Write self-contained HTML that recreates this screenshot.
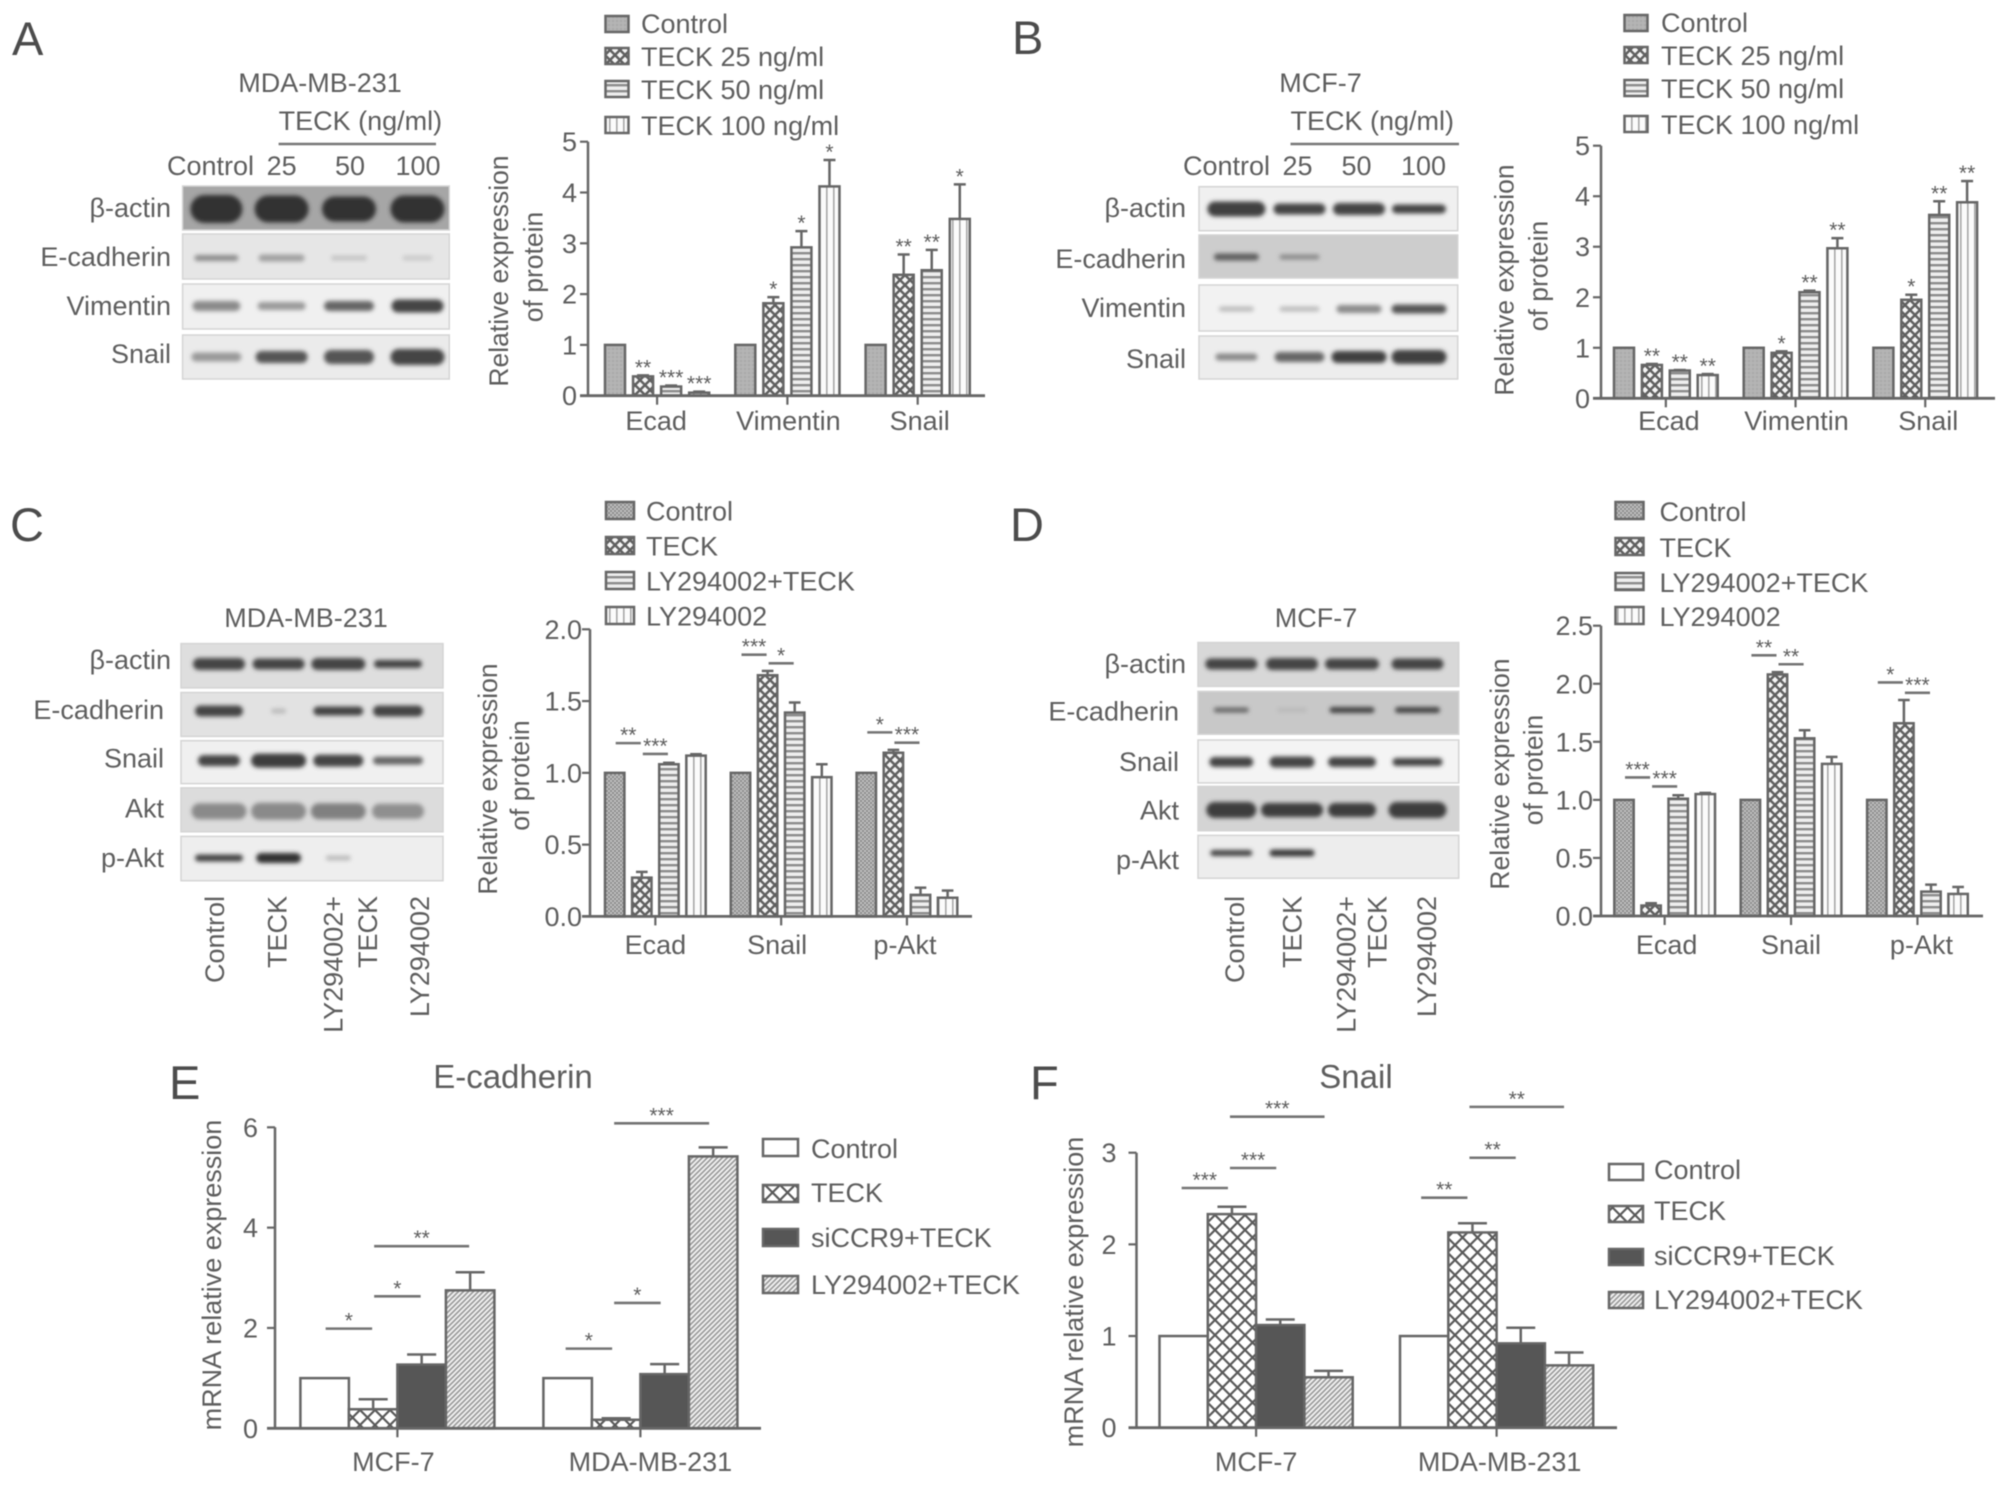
<!DOCTYPE html>
<html lang="en">
<head>
<meta charset="utf-8">
<title>TECK EMT western blot and mRNA figure</title>
<style>
html,body{margin:0;padding:0;background:#fff;}
svg{display:block;filter:blur(0.55px);}
text{font-family:"Liberation Sans",sans-serif;fill:#5e5e5e;font-size:27px;}
.pl{font-size:47px;fill:#4c4c4c;}
.r{text-anchor:end;}
.m{text-anchor:middle;}
.sw{stroke:#666;stroke-width:2.5;}
</style>
</head>
<body>
<svg id="fig" xmlns="http://www.w3.org/2000/svg" width="2008" height="1485" viewBox="0 0 2008 1485">
<defs>
  <filter id="bandBlur" x="-30%" y="-80%" width="160%" height="260%"><feGaussianBlur stdDeviation="2.2"/></filter>
  <pattern id="pGray" patternUnits="userSpaceOnUse" width="4" height="4"><rect width="4" height="4" fill="#b4b4b4"/><rect width="2" height="2" fill="#a8a8a8"/></pattern>
  <pattern id="pDots" patternUnits="userSpaceOnUse" width="4" height="4"><rect width="4" height="4" fill="#c0c0c0"/><rect width="2" height="2" fill="#8e8e8e"/><rect x="2" y="2" width="2" height="2" fill="#8e8e8e"/></pattern>
  <pattern id="pCheck" patternUnits="userSpaceOnUse" width="10" height="10"><rect width="10" height="10" fill="#f4f4f4"/><path d="M-2 2L2 -2M-2 12L12 -2M8 12L12 8M-2 8L2 12M-2 -2L12 12M8 -2L12 2" stroke="#606060" stroke-width="2.5"/></pattern>
  <pattern id="pH" patternUnits="userSpaceOnUse" width="6" height="6"><rect width="6" height="6" fill="#eeeeee"/><rect width="6" height="2.4" fill="#8c8c8c"/></pattern>
  <pattern id="pV" patternUnits="userSpaceOnUse" width="7" height="7"><rect width="7" height="7" fill="#fbfbfb"/><rect width="1.6" height="7" fill="#a8a8a8"/></pattern>
  <pattern id="pWhite" patternUnits="userSpaceOnUse" width="4" height="4"><rect width="4" height="4" fill="#fff"/></pattern>
  <pattern id="pSolid" patternUnits="userSpaceOnUse" width="4" height="4"><rect width="4" height="4" fill="#565656"/></pattern>
  <pattern id="pX" patternUnits="userSpaceOnUse" width="15" height="15"><rect width="15" height="15" fill="#fff"/><path d="M-2 2L2 -2M-2 17L17 -2M13 17L17 13M-2 13L2 17M-2 -2L17 17M13 -2L17 2" stroke="#5a5a5a" stroke-width="2.2"/></pattern>
  <pattern id="pDiag" patternUnits="userSpaceOnUse" width="5" height="5"><rect width="5" height="5" fill="#f4f4f4"/><path d="M-1 1L1 -1M-1 6L6 -1M4 6L6 4" stroke="#9c9c9c" stroke-width="1.7"/></pattern>
</defs>

<!-- panel letters -->
<text class="pl" x="12" y="55">A</text>
<text class="pl" x="1012" y="54">B</text>
<text class="pl" x="10" y="541">C</text>
<text class="pl" x="1010" y="541">D</text>
<text class="pl" x="169" y="1099">E</text>
<text class="pl" x="1030" y="1099">F</text>

<!-- blot annotation A -->
<g>
<text class="m" x="320" y="92">MDA-MB-231</text>
<text x="278.6" y="130">TECK (ng/ml)</text>
<line x1="278.6" x2="436" y1="144" y2="144" stroke="#777" stroke-width="2.5"/>
<text x="167" y="175">Control</text>
<text class="m" x="281.6" y="175">25</text>
<text class="m" x="350" y="175">50</text>
<text class="m" x="418" y="175">100</text>
<text class="r" x="171" y="217">β-actin</text>
<text class="r" x="171" y="266">E-cadherin</text>
<text class="r" x="171" y="315">Vimentin</text>
<text class="r" x="171" y="363">Snail</text>
</g>
<!-- blot annotation B -->
<g>
<text class="m" x="1320.5" y="92">MCF-7</text>
<text x="1290.5" y="130">TECK (ng/ml)</text>
<line x1="1290.5" x2="1459" y1="144" y2="144" stroke="#777" stroke-width="2.5"/>
<text x="1183" y="175">Control</text>
<text class="m" x="1297.5" y="175">25</text>
<text class="m" x="1356.5" y="175">50</text>
<text class="m" x="1423.5" y="175">100</text>
<text class="r" x="1186" y="217">β-actin</text>
<text class="r" x="1186" y="268">E-cadherin</text>
<text class="r" x="1186" y="317">Vimentin</text>
<text class="r" x="1186" y="368">Snail</text>
</g>
<!-- blot annotation C -->
<g>
<text class="m" x="306" y="627">MDA-MB-231</text>
<text class="r" x="171" y="669">β-actin</text>
<text class="r" x="164" y="719">E-cadherin</text>
<text class="r" x="164" y="767.5">Snail</text>
<text class="r" x="164" y="817.5">Akt</text>
<text class="r" x="164" y="867">p-Akt</text>
<text class="r" transform="translate(224 896) rotate(-90)">Control</text>
<text class="r" transform="translate(286.6 896) rotate(-90)">TECK</text>
<text class="r" transform="translate(342.3 896) rotate(-90)">LY294002+</text>
<text class="r" transform="translate(377 896) rotate(-90)">TECK</text>
<text class="r" transform="translate(429 896) rotate(-90)">LY294002</text>
</g>
<!-- blot annotation D -->
<g>
<text class="m" x="1316" y="627">MCF-7</text>
<text class="r" x="1186" y="673">β-actin</text>
<text class="r" x="1179" y="720.5">E-cadherin</text>
<text class="r" x="1179" y="771">Snail</text>
<text class="r" x="1179" y="819.5">Akt</text>
<text class="r" x="1179" y="869">p-Akt</text>
<text class="r" transform="translate(1244 896) rotate(-90)">Control</text>
<text class="r" transform="translate(1301.5 896) rotate(-90)">TECK</text>
<text class="r" transform="translate(1355.5 896) rotate(-90)">LY294002+</text>
<text class="r" transform="translate(1386.5 896) rotate(-90)">TECK</text>
<text class="r" transform="translate(1436 896) rotate(-90)">LY294002</text>
</g>

<!-- axis titles -->
<text class="m" transform="translate(508 271) rotate(-90)" style="font-size:26.5px">Relative expression</text>
<text class="m" transform="translate(542.5 267) rotate(-90)" style="font-size:26.5px">of protein</text>
<text class="m" transform="translate(1513.5 280) rotate(-90)" style="font-size:26.5px">Relative expression</text>
<text class="m" transform="translate(1547.5 276) rotate(-90)" style="font-size:26.5px">of protein</text>
<text class="m" transform="translate(497 779) rotate(-90)" style="font-size:26.5px">Relative expression</text>
<text class="m" transform="translate(529 775.5) rotate(-90)" style="font-size:26.5px">of protein</text>
<text class="m" transform="translate(1509 774) rotate(-90)" style="font-size:26.5px">Relative expression</text>
<text class="m" transform="translate(1542.5 770) rotate(-90)" style="font-size:26.5px">of protein</text>
<text class="m" transform="translate(221 1275) rotate(-90)">mRNA relative expression</text>
<text class="m" transform="translate(1083 1292) rotate(-90)">mRNA relative expression</text>

<!-- chart titles -->
<text class="m" x="513" y="1088" style="font-size:33px">E-cadherin</text>
<text class="m" x="1362" y="1088" style="font-size:33px" transform="translate(-6 0)">Snail</text>

<!-- legend A -->
<g>
<rect class="sw" x="605.5" y="16" width="23" height="16" fill="url(#pGray)"/><text x="641" y="33">Control</text>
<rect class="sw" x="605.5" y="48" width="23" height="16" fill="url(#pCheck)"/><text x="641" y="66">TECK 25 ng/ml</text>
<rect class="sw" x="605.5" y="81" width="23" height="16" fill="url(#pH)"/><text x="641" y="99">TECK 50 ng/ml</text>
<rect class="sw" x="605.5" y="117" width="23" height="16" fill="url(#pV)"/><text x="641" y="135">TECK 100 ng/ml</text>
</g>
<!-- legend B -->
<g>
<rect class="sw" x="1624.5" y="15" width="23" height="16" fill="url(#pGray)"/><text x="1661" y="32">Control</text>
<rect class="sw" x="1624.5" y="47" width="23" height="16" fill="url(#pCheck)"/><text x="1661" y="65">TECK 25 ng/ml</text>
<rect class="sw" x="1624.5" y="80" width="23" height="16" fill="url(#pH)"/><text x="1661" y="98">TECK 50 ng/ml</text>
<rect class="sw" x="1624.5" y="116" width="23" height="16" fill="url(#pV)"/><text x="1661" y="134">TECK 100 ng/ml</text>
</g>
<!-- legend C -->
<g>
<rect class="sw" x="606" y="502" width="28" height="17" fill="url(#pDots)"/><text x="646" y="520.5">Control</text>
<rect class="sw" x="606" y="537" width="28" height="17" fill="url(#pCheck)"/><text x="646" y="555.5">TECK</text>
<rect class="sw" x="606" y="572" width="28" height="17" fill="url(#pH)"/><text x="646" y="590.5">LY294002+TECK</text>
<rect class="sw" x="606" y="607" width="28" height="17" fill="url(#pV)"/><text x="646" y="625.5">LY294002</text>
</g>
<!-- legend D -->
<g>
<rect class="sw" x="1615.5" y="502" width="28" height="17" fill="url(#pDots)"/><text x="1659.5" y="521">Control</text>
<rect class="sw" x="1615.5" y="538" width="28" height="17" fill="url(#pCheck)"/><text x="1659.5" y="557">TECK</text>
<rect class="sw" x="1615.5" y="573" width="28" height="17" fill="url(#pH)"/><text x="1659.5" y="592">LY294002+TECK</text>
<rect class="sw" x="1615.5" y="607" width="28" height="17" fill="url(#pV)"/><text x="1659.5" y="626">LY294002</text>
</g>
<!-- legend E -->
<g>
<rect class="sw" x="763" y="1139" width="35" height="17" fill="#fff"/><text x="811" y="1158">Control</text>
<rect class="sw" x="763" y="1185" width="35" height="17" fill="url(#pX)"/><text x="811" y="1202">TECK</text>
<rect class="sw" x="763" y="1229" width="35" height="17" fill="url(#pSolid)"/><text x="811" y="1247">siCCR9+TECK</text>
<rect class="sw" x="763" y="1276" width="35" height="17" fill="url(#pDiag)"/><text x="811" y="1294">LY294002+TECK</text>
</g>
<!-- legend F -->
<g>
<rect class="sw" x="1609" y="1164" width="34" height="16" fill="#fff"/><text x="1654" y="1179">Control</text>
<rect class="sw" x="1609" y="1206" width="34" height="16" fill="url(#pX)"/><text x="1654" y="1220">TECK</text>
<rect class="sw" x="1609" y="1249" width="34" height="16" fill="url(#pSolid)"/><text x="1654" y="1265">siCCR9+TECK</text>
<rect class="sw" x="1609" y="1292" width="34" height="16" fill="url(#pDiag)"/><text x="1654" y="1309">LY294002+TECK</text>
</g>
</svg>

<script>
// ---------- Panel A data ----------
const aCategories = ["Ecad", "Vimentin", "Snail"];
const aTicks = ["0", "1", "2", "3", "4", "5"];
const aControl = [1, 1, 1];
const aTeck25 = [0.38, 1.82, 2.38];
const aTeck50 = [0.18, 2.92, 2.47];
const aTeck100 = [0.06, 4.12, 3.48];
const aControlErr = [0, 0, 0];
const aTeck25Err = [0.02, 0.12, 0.40];
const aTeck50Err = [0.02, 0.32, 0.40];
const aTeck100Err = [0.02, 0.52, 0.68];
const aControlStars = ["", "", ""];
const aTeck25Stars = ["**", "*", "**"];
const aTeck50Stars = ["***", "*", "**"];
const aTeck100Stars = ["***", "*", "*"];

// ---------- Panel B data ----------
const bCategories = ["Ecad", "Vimentin", "Snail"];
const bTicks = ["0", "1", "2", "3", "4", "5"];
const bControl = [1, 1, 1];
const bTeck25 = [0.66, 0.90, 1.95];
const bTeck50 = [0.55, 2.10, 3.63];
const bTeck100 = [0.46, 2.97, 3.88];
const bControlErr = [0, 0, 0];
const bTeck25Err = [0.02, 0.03, 0.10];
const bTeck50Err = [0.01, 0.03, 0.27];
const bTeck100Err = [0.02, 0.20, 0.42];
const bControlStars = ["", "", ""];
const bTeck25Stars = ["**", "*", "*"];
const bTeck50Stars = ["**", "**", "**"];
const bTeck100Stars = ["**", "**", "**"];

// ---------- Panel C data ----------
const cCategories = ["Ecad", "Snail", "p-Akt"];
const cTicks = ["0.0", "0.5", "1.0", "1.5", "2.0"];
const cControl = [1, 1, 1];
const cTeck = [0.27, 1.68, 1.14];
const cLyTeck = [1.06, 1.42, 0.15];
const cLy = [1.12, 0.97, 0.13];
const cControlErr = [0, 0, 0];
const cTeckErr = [0.04, 0.03, 0.02];
const cLyTeckErr = [0.01, 0.07, 0.05];
const cLyErr = [0.01, 0.09, 0.05];
const cBracketGroup = [0, 0, 1, 1, 2, 2];
const cBracketFrom = [0, 1, 0, 1, 0, 1];
const cBracketTo = [1, 2, 1, 2, 1, 2];
const cBracketLevel = [1.207, 1.132, 1.823, 1.763, 1.282, 1.21];
const cBracketStars = ["**", "***", "***", "*", "*", "***"];

// ---------- Panel D data ----------
const dCategories = ["Ecad", "Snail", "p-Akt"];
const dTicks = ["0.0", "0.5", "1.0", "1.5", "2.0", "2.5"];
const dControl = [1, 1, 1];
const dTeck = [0.09, 2.08, 1.66];
const dLyTeck = [1.01, 1.53, 0.21];
const dLy = [1.05, 1.31, 0.19];
const dControlErr = [0, 0, 0];
const dTeckErr = [0.02, 0.02, 0.20];
const dLyTeckErr = [0.03, 0.07, 0.06];
const dLyErr = [0.01, 0.06, 0.06];
const dBracketGroup = [0, 0, 1, 1, 2, 2];
const dBracketFrom = [0, 1, 0, 1, 0, 1];
const dBracketTo = [1, 2, 1, 2, 1, 2];
const dBracketLevel = [1.193, 1.116, 2.245, 2.168, 2.011, 1.922];
const dBracketStars = ["***", "***", "**", "**", "*", "***"];

// ---------- Panel E data ----------
const eCategories = ["MCF-7", "MDA-MB-231"];
const eTicks = ["0", "2", "4", "6"];
const eControl = [1, 1];
const eTeck = [0.38, 0.17];
const eSiCcr9 = [1.27, 1.08];
const eLyTeck = [2.75, 5.42];
const eControlErr = [0, 0];
const eTeckErr = [0.20, 0.03];
const eSiCcr9Err = [0.20, 0.20];
const eLyTeckErr = [0.36, 0.18];
const eBracketGroup = [0, 0, 0, 1, 1, 1];
const eBracketFrom = [0, 1, 1, 0, 1, 1];
const eBracketTo = [1, 2, 3, 1, 2, 3];
const eBracketLevel = [1.987, 2.63, 3.63, 1.588, 2.498, 6.08];
const eBracketStars = ["*", "*", "**", "*", "*", "***"];

// ---------- Panel F data ----------
const fCategories = ["MCF-7", "MDA-MB-231"];
const fTicks = ["0", "1", "2", "3"];
const fControl = [1, 1];
const fTeck = [2.33, 2.13];
const fSiCcr9 = [1.12, 0.92];
const fLyTeck = [0.55, 0.68];
const fControlErr = [0, 0];
const fTeckErr = [0.08, 0.10];
const fSiCcr9Err = [0.06, 0.17];
const fLyTeckErr = [0.07, 0.14];
const fBracketGroup = [0, 0, 0, 1, 1, 1];
const fBracketFrom = [0, 1, 1, 0, 1, 1];
const fBracketTo = [1, 2, 3, 1, 2, 3];
const fBracketLevel = [2.615, 2.833, 3.393, 2.509, 2.945, 3.5];
const fBracketStars = ["***", "***", "***", "**", "**", "**"];

const NS = "http://www.w3.org/2000/svg";
const root = document.getElementById("fig");
const INK = "#666666";

function make(tag, parent, attrs) {
  const node = document.createElementNS(NS, tag);
  for (const k in attrs) node.setAttribute(k, attrs[k]);
  parent.appendChild(node);
  return node;
}

function drawPanel(id, L, categories, ticks, series, errors, fills, starsBySeries, brackets) {
  const g = make("g", root, {});
  
  

  const maxV = parseFloat(ticks[ticks.length - 1]);
  const yScale = function (v) { return L.y0 - (v / maxV) * (L.y0 - L.yTop); };
  const xScale = function (grp, s) { return L.start + grp * L.groupStep + s * L.step; };
  const barCenter = function (grp, s) { return xScale(grp, s) + L.w / 2; };

  // bars, errors, stars
  series.forEach(function (vals, s) {
    vals.forEach(function (v, i) {
      const bx = xScale(i, s);
      const top = yScale(v);
      const e = errors[s][i];
      const cx = bx + L.w / 2;
      const errTop = yScale(v + e);
      if (e > 0) {
        const stem = make("line", g, { x1: cx, x2: cx, y1: top, y2: errTop, stroke: INK, "stroke-width": 2.5 });
        
        
        const cap = make("line", g, { x1: cx - L.w * 0.3, x2: cx + L.w * 0.3, y1: errTop, y2: errTop, stroke: INK, "stroke-width": 2.5 });
        
        
      }
      const bar = make("rect", g, { x: bx, y: top, width: L.w, height: L.y0 - top, fill: fills[s], stroke: INK, "stroke-width": 2.5 });
      
      
      if (starsBySeries && starsBySeries[s][i]) {
        const st = make("text", g, { x: cx, y: errTop - 1, "text-anchor": "middle", style: "font-size:21px" });
        st.textContent = starsBySeries[s][i];
        
        
      }
    });
  });

  // brackets
  if (brackets) {
    brackets.level.forEach(function (lvl, k) {
      const shift = L.bracketShift ? L.bracketShift[brackets.group[k]] : 0;
      const x1 = barCenter(brackets.group[k], brackets.from[k]) + 1 + shift;
      const x2 = barCenter(brackets.group[k], brackets.to[k]) - 1 + shift;
      const yb = yScale(lvl);
      const ln = make("line", g, { x1: x1, x2: x2, y1: yb, y2: yb, stroke: "#747474", "stroke-width": 2.6 });
      
      
      const st = make("text", g, { x: (x1 + x2) / 2, y: yb - 1, "text-anchor": "middle", style: "font-size:21px" });
      st.textContent = brackets.stars[k];
      
      
    });
  }

  // axes
  const yAxis = make("line", g, { x1: L.x0, x2: L.x0, y1: L.yTop, y2: L.y0, stroke: INK, "stroke-width": 2.5 });
  
  
  const xAxis = make("line", g, { x1: L.x0 - 8, x2: L.xEnd, y1: L.y0, y2: L.y0, stroke: INK, "stroke-width": 2.8 });
  
  

  ticks.forEach(function (t) {
    const yt = yScale(parseFloat(t));
    const tk = make("line", g, { x1: L.x0 - 8, x2: L.x0, y1: yt, y2: yt, stroke: INK, "stroke-width": 2.2 });
    
    
    const lb = make("text", g, { x: L.x0 - L.labelGap, y: yt + 9.5, "text-anchor": "end" });
    lb.textContent = t;
    
    
  });

  categories.forEach(function (c, i) {
    const tx = xScale(i, 0) + (3 * L.step + L.w) / 2;
    const tk = make("line", g, { x1: tx, x2: tx, y1: L.y0, y2: L.y0 + 9, stroke: INK, "stroke-width": 2.2 });
    
    
    const lb = make("text", g, { x: tx + L.catShift[i], y: L.catY, "text-anchor": "middle" });
    lb.textContent = c;
    
    
  });
}

drawPanel("a",
  { x0: 588, xEnd: 985, y0: 395.7, yTop: 141.7, start: 605, w: 20, step: 28.06, groupStep: 130.3, labelGap: 11, catY: 430, catShift: [-1, 1, 2] },
  aCategories, aTicks,
  [aControl, aTeck25, aTeck50, aTeck100],
  [aControlErr, aTeck25Err, aTeck50Err, aTeck100Err],
  ["url(#pGray)", "url(#pCheck)", "url(#pH)", "url(#pV)"],
  [aControlStars, aTeck25Stars, aTeck50Stars, aTeck100Stars], null);

drawPanel("b",
  { x0: 1601, xEnd: 1995, y0: 398.3, yTop: 145.7, start: 1614, w: 20, step: 27.9, groupStep: 129.7, labelGap: 11, catY: 430, catShift: [3, 1, 3] },
  bCategories, bTicks,
  [bControl, bTeck25, bTeck50, bTeck100],
  [bControlErr, bTeck25Err, bTeck50Err, bTeck100Err],
  ["url(#pGray)", "url(#pCheck)", "url(#pH)", "url(#pV)"],
  [bControlStars, bTeck25Stars, bTeck50Stars, bTeck100Stars], null);

drawPanel("c",
  { x0: 590, xEnd: 972, y0: 916.4, yTop: 629.3, start: 605, w: 19.4, step: 27.1, groupStep: 125.8, labelGap: 8, catY: 954, catShift: [0, -4, -2] },
  cCategories, cTicks,
  [cControl, cTeck, cLyTeck, cLy],
  [cControlErr, cTeckErr, cLyTeckErr, cLyErr],
  ["url(#pDots)", "url(#pCheck)", "url(#pH)", "url(#pV)"],
  null,
  { group: cBracketGroup, from: cBracketFrom, to: cBracketTo, level: cBracketLevel, stars: cBracketStars });

drawPanel("d",
  { x0: 1601, xEnd: 1983, y0: 916, yTop: 625.7, start: 1614.3, w: 19.4, step: 27.1, groupStep: 126.4, labelGap: 8, catY: 954, catShift: [2, 0, 4] },
  dCategories, dTicks,
  [dControl, dTeck, dLyTeck, dLy],
  [dControlErr, dTeckErr, dLyTeckErr, dLyErr],
  ["url(#pDots)", "url(#pCheck)", "url(#pH)", "url(#pV)"],
  null,
  { group: dBracketGroup, from: dBracketFrom, to: dBracketTo, level: dBracketLevel, stars: dBracketStars });

drawPanel("e",
  { x0: 275, xEnd: 761, y0: 1428.3, yTop: 1127.3, start: 300.4, w: 48.5, step: 48.5, groupStep: 243, labelGap: 17, catY: 1471, catShift: [-4, 10], bracketShift: [0, -3] },
  eCategories, eTicks,
  [eControl, eTeck, eSiCcr9, eLyTeck],
  [eControlErr, eTeckErr, eSiCcr9Err, eLyTeckErr],
  ["#ffffff", "url(#pX)", "url(#pSolid)", "url(#pDiag)"],
  null,
  { group: eBracketGroup, from: eBracketFrom, to: eBracketTo, level: eBracketLevel, stars: eBracketStars });

drawPanel("f",
  { x0: 1136.5, xEnd: 1617, y0: 1427.7, yTop: 1152.7, start: 1159.5, w: 48.3, step: 48.3, groupStep: 240.5, labelGap: 20, catY: 1471, catShift: [0, 3], bracketShift: [-3, -4] },
  fCategories, fTicks,
  [fControl, fTeck, fSiCcr9, fLyTeck],
  [fControlErr, fTeckErr, fSiCcr9Err, fLyTeckErr],
  ["#ffffff", "url(#pX)", "url(#pSolid)", "url(#pDiag)"],
  null,
  { group: fBracketGroup, from: fBracketFrom, to: fBracketTo, level: fBracketLevel, stars: fBracketStars });

// ---------- Western blot images (drawn, not chart data) ----------
function drawBlot(id, x, w, lanes, rows) {
  const g = make("g", root, {});
  
  
  rows.forEach(function (row) {
    const box = make("rect", g, { x: x, y: row.y, width: w, height: row.h, fill: row.bg, stroke: "#d4d4d4", "stroke-width": 1.5 });
    
    
    row.bands.forEach(function (b, i) {
      if (!b) return;
      const band = make("rect", g, {
        x: lanes[i] - b[1] / 2, y: row.cy - b[2] / 2, width: b[1], height: b[2],
        rx: b[2] / 2, fill: b[0], filter: "url(#bandBlur)"
      });
      
      
    });
  });
}

drawBlot("a", 182.6, 266.7, [216.4, 281.6, 349, 417.5], [
  { y: 186, h: 44, bg: "#a6a6a6", cy: 209, bands: [["#333", 52, 28], ["#333", 54, 27], ["#333", 54, 25], ["#333", 54, 27]] },
  { y: 234, h: 45, bg: "#e6e6e6", cy: 258, bands: [["#8c8c8c", 44, 6], ["#a0a0a0", 46, 7], ["#c4c4c4", 36, 5], ["#cacaca", 30, 5]] },
  { y: 284, h: 45, bg: "#f0f0f0", cy: 306, bands: [["#8a8a8a", 48, 10], ["#9a9a9a", 48, 8], ["#666", 50, 10], ["#444", 52, 13]] },
  { y: 335, h: 44, bg: "#ebebeb", cy: 357, bands: [["#999", 50, 9], ["#555", 52, 12], ["#555", 50, 14], ["#444", 54, 16]] }
]);
drawBlot("b", 1199, 258.7, [1236.4, 1299.5, 1359, 1419], [
  { y: 186.7, h: 44, bg: "#f0f0f0", cy: 209, bands: [["#3f3f3f", 58, 15], ["#444", 52, 11], ["#444", 52, 12], ["#444", 54, 9]] },
  { y: 235, h: 43, bg: "#cdcdcd", cy: 257, bands: [["#5e5e5e", 45, 7], ["#8a8a8a", 40, 5], null, null] },
  { y: 285, h: 46, bg: "#f2f2f2", cy: 309, bands: [["#bbb", 35, 5], ["#bbb", 40, 5], ["#8a8a8a", 45, 8], ["#555", 55, 9]] },
  { y: 336, h: 43, bg: "#ededed", cy: 357, bands: [["#888", 42, 7], ["#666", 50, 10], ["#404040", 55, 12], ["#404040", 55, 14]] }
]);
drawBlot("c", 181, 262, [219, 278.6, 338.3, 398], [
  { y: 643.6, h: 44.3, bg: "#dedede", cy: 664, bands: [["#444", 52, 12], ["#444", 52, 11], ["#444", 54, 12], ["#444", 48, 8]] },
  { y: 692.5, h: 43.9, bg: "#e2e2e2", cy: 711, bands: [["#444", 48, 11], ["#bbb", 15, 5], ["#444", 50, 9], ["#444", 50, 11]] },
  { y: 740.7, h: 42.9, bg: "#f0f0f0", cy: 760.6, bands: [["#444", 42, 11], ["#3c3c3c", 55, 14], ["#444", 50, 12], ["#666", 50, 8]] },
  { y: 787.9, h: 43.9, bg: "#dcdcdc", cy: 811.3, bands: [["#8a8a8a", 55, 16], ["#8a8a8a", 55, 17], ["#808080", 55, 16], ["#8f8f8f", 52, 15]] },
  { y: 836.4, h: 44.3, bg: "#eeeeee", cy: 858, bands: [["#444", 48, 7], ["#333", 45, 10], ["#bbb", 25, 5], null] }
]);
drawBlot("d", 1198, 260.7, [1231.3, 1292, 1352, 1417.5], [
  { y: 642.5, h: 43.9, bg: "#d8d8d8", cy: 664, bands: [["#444", 52, 11], ["#444", 52, 12], ["#444", 54, 11], ["#444", 52, 11]] },
  { y: 691.4, h: 42.9, bg: "#c8c8c8", cy: 710, bands: [["#666", 35, 5], ["#bbb", 30, 5], ["#444", 45, 6], ["#444", 45, 6]] },
  { y: 740, h: 42.9, bg: "#f4f4f4", cy: 762, bands: [["#444", 44, 10], ["#444", 45, 11], ["#444", 48, 10], ["#444", 50, 8]] },
  { y: 786.4, h: 44.3, bg: "#d4d4d4", cy: 810, bands: [["#3e3e3e", 50, 16], ["#3e3e3e", 62, 14], ["#3e3e3e", 48, 14], ["#3e3e3e", 58, 16]] },
  { y: 835.4, h: 42.8, bg: "#ededed", cy: 853, bands: [["#444", 42, 6], ["#3a3a3a", 45, 7], null, null] }
]);
</script>
</body>
</html>
